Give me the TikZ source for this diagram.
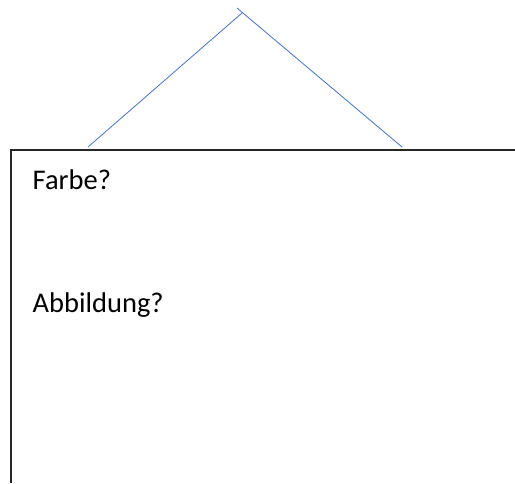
\documentclass[tikz,border=0pt]{standalone}
\usepackage{fontspec}
\setmainfont{Carlito}
\usepackage{xcolor}
\definecolor{roofBlue}{HTML}{4472C4}
\definecolor{boxGray}{HTML}{262626}

\begin{document}
\begin{tikzpicture}[x=1pt, y=-1pt,
  roof/.style={roofBlue, line width=0.8pt},
  frame/.style={boxGray, line width=1.1pt},
  question/.style={anchor=base west, inner sep=0pt, font=\fontsize{28.5}{34}\selectfont}]
\useasboundingbox (0,0) rectangle (515,483);
% roof
\coordinate (eaveL) at (88,147);
\coordinate (peakL) at (242,13);
\coordinate (peakR) at (237,8);
\coordinate (eaveR) at (402,147);
\draw[roof] (eaveL) -- (peakL);
\draw[roof] (peakR) -- (eaveR);
% box, cut off at the right and at the bottom
\coordinate (boxBottom) at (11,483);
\coordinate (boxRight) at (515,150);
\draw[frame] (boxBottom) |- (boxRight);
\node[question] (farbe) at (32.5,189) {Farbe?};
\node[question] (abbildung) at (32.5,312) {Abbildung?};
\end{tikzpicture}
\end{document}
